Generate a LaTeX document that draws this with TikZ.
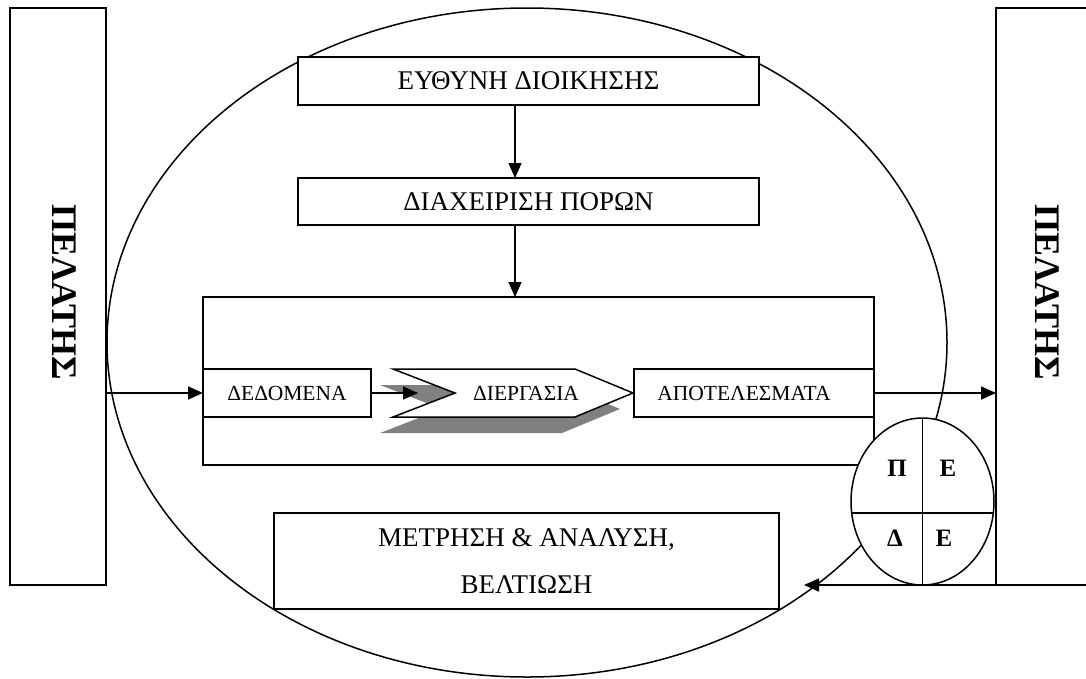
\documentclass[tikz,border=0pt]{standalone}
\usepackage{fontspec}
\setmainfont{Liberation Serif}
\usetikzlibrary{shapes.geometric,arrows.meta}
\begin{document}
\begin{tikzpicture}[x=1pt,y=-1pt,
  line width=1.5pt,
  every node/.style={inner sep=0pt, outer sep=0pt},
  frame/.style={draw, line width=1.5pt, fill=white},
  bigtxt/.style={font=\fontsize{27}{47}\selectfont},
  smalltxt/.style={font=\fontsize{21.5}{26}\selectfont},
  sidetxt/.style={font=\fontsize{36}{40}\selectfont\bfseries, rotate=-90},
  quadtxt/.style={font=\fontsize{25}{28}\selectfont\bfseries},
  flow/.style={line width=1.5pt, -{Triangle[length=15pt,width=13pt]}}]
\useasboundingbox (0,0) rectangle (1086,678);

% outer loop of the system
\node[ellipse, draw, minimum width=840pt, minimum height=669pt] (loop) at (527,342.5) {};

% customers on both sides
\node[frame, minimum width=96pt, minimum height=577pt] (lbox) at (58,296.5) {};
\node[sidetxt] (lname) at (64,292) {ΠΕΛΑΤΗΣ};
\node[frame, minimum width=104pt, minimum height=577pt] (rbox) at (1048,296.5) {};
\node[sidetxt] (rname) at (1047,292) {ΠΕΛΑΤΗΣ};

% management chain
\node[frame, bigtxt, minimum width=461pt, minimum height=48pt] (mgmt) at (528.5,81) {ΕΥΘΥΝΗ ΔΙΟΙΚΗΣΗΣ};
\node[frame, bigtxt, minimum width=461pt, minimum height=47pt] (res) at (528.5,201.5) {ΔΙΑΧΕΙΡΙΣΗ ΠΟΡΩΝ};

% product realisation
\node[frame, minimum width=671pt, minimum height=168pt] (proc) at (538.5,381) {};
\node[frame, smalltxt, minimum width=168pt, minimum height=48pt] (inbox) at (287,393) {ΔΕΔΟΜΕΝΑ};
\node[frame, minimum width=240pt, minimum height=48pt] (outbox) at (754,393) {};
\node[smalltxt] (outname) at (744,393) {ΑΠΟΤΕΛΕΣΜΑΤΑ};

% process chevron with its shadow
\fill[gray] (380,385) -- (562,385) -- (620,409) -- (562,433) -- (380,433) -- (442,409) -- cycle;
\draw[fill=white] (393,369) -- (575,369) -- (633,393) -- (575,417) -- (393,417) -- (455,393) -- cycle;
\node[smalltxt] (task) at (526,393) {ΔΙΕΡΓΑΣΙΑ};
\coordinate (taskin) at (418,393);

% measurement
\node[frame, bigtxt, align=center, minimum width=505pt, minimum height=96pt] (meas) at (526.5,561)
  {ΜΕΤΡΗΣΗ \& ΑΝΑΛΥΣΗ,\\ΒΕΛΤΙΩΣΗ};

% PDCA cycle
\node[ellipse, frame, minimum width=143pt, minimum height=167pt] (pdca) at (922.5,501.5) {};
\draw (pdca.north) -- (pdca.south);
\draw (851.8,513) -- (993.2,513);
\node[quadtxt] (qp) at (897,468) {Π};
\node[quadtxt] (qe1) at (948,468) {Ε};
\node[quadtxt] (qd) at (895,538) {Δ};
\node[quadtxt] (qe2) at (944,538) {Ε};

% connectors
\coordinate (axis) at (515,0);
\draw[flow] (mgmt.south -| axis) -- (res.north -| axis);
\draw[flow] (res.south -| axis) -- (proc.north -| axis);
\draw[flow] (lbox.east |- inbox.west) -- (inbox.west);
\draw[flow] (inbox.east) -- (taskin);
\draw[flow] (outbox.east) -- (rbox.west |- outbox.east);
\coordinate (fbtip) at (804,585);
\draw[flow] (rbox.south east) -- (fbtip);
\end{tikzpicture}
\end{document}
